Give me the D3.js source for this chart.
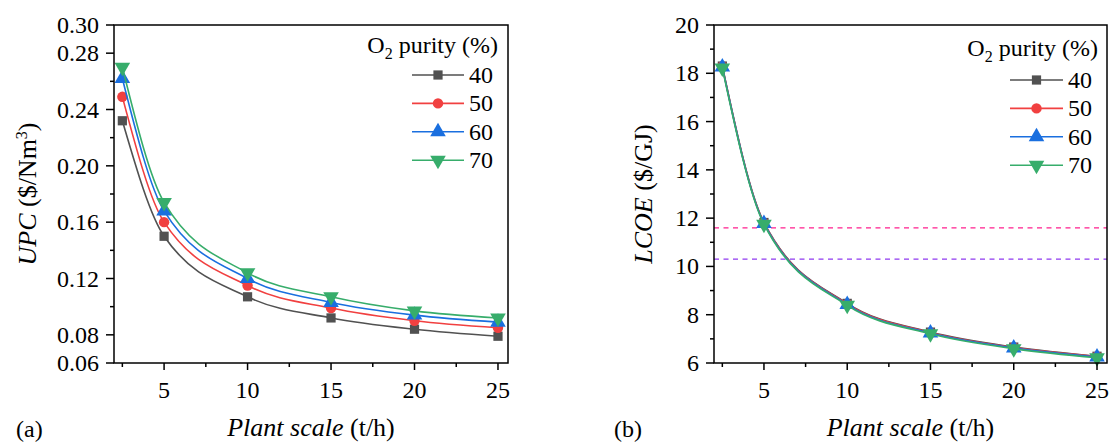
<!DOCTYPE html>
<html lang="en">
<head>
    <meta charset="utf-8">
    <script src="https://d3js.org/d3.v7.min.js"></script>
    <style>
        body {
            margin: 0px;
            background: #fff;
        }
        text {
            font-family: "Liberation Serif", "Times New Roman", serif;
            fill: #000;
        }
        .tick-label {
            font-size: 24px;
        }
        .axis-title {
            font-size: 26px;
        }
        .legend text {
            font-size: 24px;
        }
    </style>
</head>
<body>
<svg id="chart" width="1112" height="443"></svg>
<script>
// Values
var plantScale = [2.5, 5, 10, 15, 20, 25];
var purityLevels = ["40", "50", "60", "70"];

var upc40 = [0.232, 0.150, 0.107, 0.092, 0.084, 0.079];
var upc50 = [0.249, 0.160, 0.115, 0.099, 0.090, 0.085];
var upc60 = [0.262, 0.168, 0.120, 0.103, 0.094, 0.089];
var upc70 = [0.270, 0.174, 0.124, 0.107, 0.097, 0.092];

var lcoe40 = [18.30, 11.82, 8.47, 7.28, 6.66, 6.28];
var lcoe50 = [18.28, 11.80, 8.45, 7.26, 6.64, 6.27];
var lcoe60 = [18.26, 11.78, 8.42, 7.24, 6.62, 6.25];
var lcoe70 = [18.22, 11.75, 8.39, 7.21, 6.59, 6.22];

// Reference lines in panel (b)
var refLevels = [11.6, 10.3];
var refColors = ["#ff1f8e", "#8f3af0"];

var upcTicksMajor = [0.08, 0.12, 0.16, 0.20, 0.24, 0.28];
var upcTicksEnd = [0.06, 0.30];
var lcoeTicksMajor = [6, 8, 10, 12, 14, 16, 18, 20];
var xTicksMajor = [5, 10, 15, 20, 25];

// Origin default palette
var colors = ["#515151", "#f14040", "#1a6fdf", "#37ad6b"];
var shapes = [d3.symbolSquare, d3.symbolCircle, d3.symbolTriangle, "down"];

var svg = d3.select("#chart");
var plotTop = 25, plotBottom = 363;

function symbolPath(k, size) {
    if (shapes[k] === "down") {
        return d3.symbol().type(d3.symbolTriangle).size(size)();
    }
    return d3.symbol().type(shapes[k]).size(size)();
}

function drawMarker(g, k, x, y) {
    var sizes = [85, 85, 105, 105];
    g.append("path")
        .attr("d", symbolPath(k, sizes[k]))
        .attr("transform", "translate(" + x + "," + y + ")" + (shapes[k] === "down" ? " rotate(180)" : ""))
        .attr("fill", colors[k]);
}

function drawPanel(opt) {
    var g = svg.append("g");
    var x = d3.scaleLinear().domain([2, 25.6]).range([opt.left, opt.right]);
    var y = d3.scaleLinear().domain(opt.yDomain).range([plotBottom, plotTop]);

    // reference lines
    (opt.refs || []).forEach(function(v, i) {
        g.append("line")
            .attr("x1", opt.left).attr("x2", opt.right)
            .attr("y1", y(v)).attr("y2", y(v))
            .attr("stroke", refColors[i])
            .attr("stroke-width", 1.3)
            .attr("stroke-dasharray", "5,4.5");
    });

    // curves and markers
    var line = d3.line()
        .x(function(d, i) { return x(plantScale[i]); })
        .y(function(d) { return y(d); })
        .curve(d3.curveMonotoneX);

    opt.series.forEach(function(s, k) {
        g.append("path")
            .attr("d", line(s))
            .attr("fill", "none")
            .attr("stroke", colors[k])
            .attr("stroke-width", 1.6);
        s.forEach(function(v, i) {
            drawMarker(g, k, x(plantScale[i]), y(v));
        });
    });

    // frame
    g.append("rect")
        .attr("x", opt.left).attr("y", plotTop)
        .attr("width", opt.right - opt.left).attr("height", plotBottom - plotTop)
        .attr("fill", "none").attr("stroke", "#000").attr("stroke-width", 1.5);

    // x axis ticks
    var xMinor = d3.range(2.5, 25.1, 5);
    xMinor.forEach(function(v) {
        g.append("line").attr("x1", x(v)).attr("x2", x(v))
            .attr("y1", plotBottom).attr("y2", plotBottom + 4)
            .attr("stroke", "#000").attr("stroke-width", 1.5);
    });
    xTicksMajor.forEach(function(v) {
        g.append("line").attr("x1", x(v)).attr("x2", x(v))
            .attr("y1", plotBottom).attr("y2", plotBottom + 7)
            .attr("stroke", "#000").attr("stroke-width", 1.5);
        g.append("text").attr("class", "tick-label")
            .attr("x", x(v)).attr("y", plotBottom + 35)
            .attr("text-anchor", "middle")
            .text(v);
    });

    // y axis ticks
    opt.yMinor.forEach(function(v) {
        g.append("line").attr("x1", opt.left - 4).attr("x2", opt.left)
            .attr("y1", y(v)).attr("y2", y(v))
            .attr("stroke", "#000").attr("stroke-width", 1.5);
    });
    opt.yMajor.forEach(function(v) {
        g.append("line").attr("x1", opt.left - 8).attr("x2", opt.left)
            .attr("y1", y(v)).attr("y2", y(v))
            .attr("stroke", "#000").attr("stroke-width", 1.5);
        g.append("text").attr("class", "tick-label")
            .attr("x", opt.left - 15).attr("y", y(v) + 8)
            .attr("text-anchor", "end")
            .text(opt.fmt(v));
    });

    // axis titles
    var xt = g.append("text").attr("class", "axis-title")
        .attr("x", (opt.left + opt.right) / 2).attr("y", 436)
        .attr("text-anchor", "middle");
    xt.append("tspan").attr("font-style", "italic").text("Plant scale");
    xt.append("tspan").text(" (t/h)");

    var yt = g.append("text").attr("class", "axis-title")
        .attr("transform", "translate(" + opt.yTitleX + "," + ((plotTop + plotBottom) / 2) + ") rotate(-90)")
        .attr("text-anchor", "middle");
    opt.yTitle(yt);

    // panel letter
    g.append("text").attr("class", "tick-label")
        .attr("x", opt.letterX).attr("y", 437)
        .text(opt.letter);

    // legend
    var lg = g.append("g").attr("class", "legend");
    var title = lg.append("text")
        .attr("x", opt.legend.right).attr("y", opt.legend.titleY)
        .attr("text-anchor", "end");
    title.append("tspan").text("O");
    title.append("tspan").attr("dy", 6).attr("font-size", "16px").text("2");
    title.append("tspan").attr("dy", -6).text(" purity (%)");

    purityLevels.forEach(function(p, k) {
        var ry = opt.legend.rowY + k * 28.4;
        lg.append("line")
            .attr("x1", opt.legend.x1).attr("x2", opt.legend.x2)
            .attr("y1", ry).attr("y2", ry)
            .attr("stroke", colors[k]).attr("stroke-width", 1.6);
        drawMarker(lg, k, (opt.legend.x1 + opt.legend.x2) / 2, ry);
        lg.append("text")
            .attr("x", opt.legend.x2 + 5).attr("y", ry + 8)
            .text(p);
    });
}

drawPanel({
    left: 114, right: 508,
    yDomain: [0.06, 0.30],
    yMajor: upcTicksMajor.concat(upcTicksEnd),
    yMinor: d3.range(0.10, 0.27, 0.04),
    fmt: d3.format(".2f"),
    series: [upc40, upc50, upc60, upc70],
    yTitleX: 36,
    yTitle: function(t) {
        t.append("tspan").attr("font-style", "italic").text("UPC");
        t.append("tspan").text(" ($/Nm");
        t.append("tspan").attr("dy", -9).attr("font-size", "16px").text("3");
        t.append("tspan").attr("dy", 9).text(")");
    },
    letter: "(a)", letterX: 16,
    legend: { right: 498, titleY: 53, rowY: 75, x1: 412, x2: 464 }
});

drawPanel({
    left: 714, right: 1107,
    yDomain: [6, 20],
    yMajor: lcoeTicksMajor,
    yMinor: d3.range(7, 20, 2),
    fmt: d3.format("d"),
    series: [lcoe40, lcoe50, lcoe60, lcoe70],
    refs: refLevels,
    yTitleX: 652,
    yTitle: function(t) {
        t.append("tspan").attr("font-style", "italic").text("LCOE");
        t.append("tspan").text(" ($/GJ)");
    },
    letter: "(b)", letterX: 614,
    legend: { right: 1098, titleY: 56, rowY: 80, x1: 1010, x2: 1063 }
});
</script>
</body>
</html>
